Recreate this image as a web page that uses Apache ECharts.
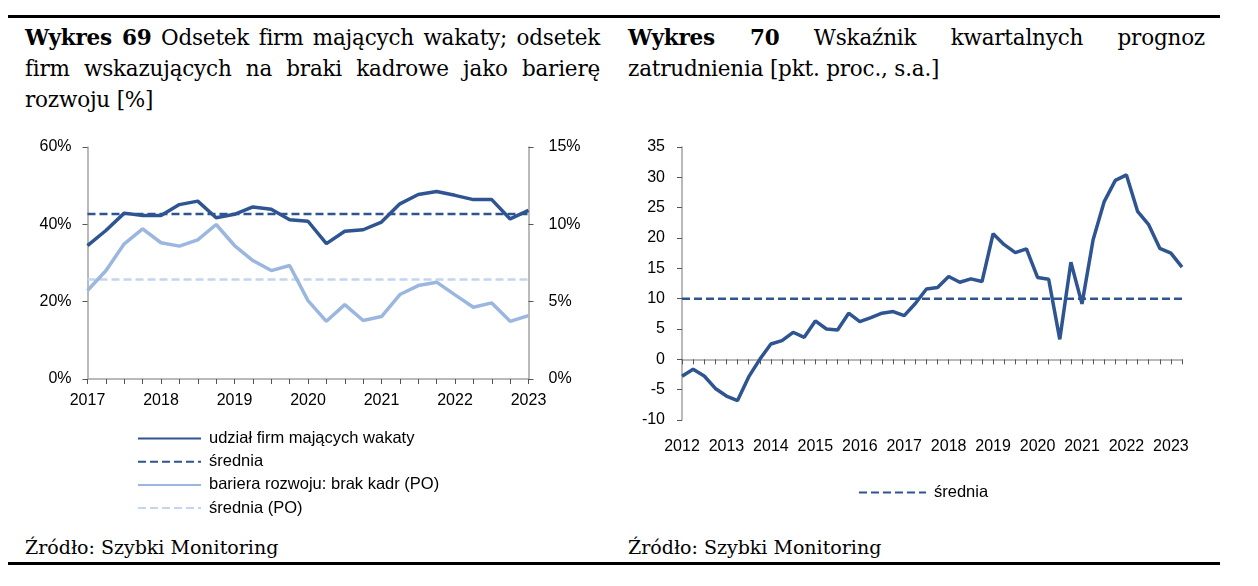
<!DOCTYPE html>
<html><head><meta charset="utf-8">
<script src="https://cdn.jsdelivr.net/npm/echarts@6/dist/echarts.min.js"></script>
<style>
html,body{margin:0;padding:0;background:#fff;width:1258px;height:586px;overflow:hidden;}
body{position:relative;font-family:"DejaVu Serif",serif;color:#000;}
.rule{position:absolute;left:8px;width:1212px;height:3px;background:#000;}
.chart{position:absolute;left:0;top:0;width:1258px;height:586px;}
.title{position:absolute;top:22px;font-size:21.5px;line-height:31px;}
.title .l{white-space:nowrap;text-align:justify;text-align-last:justify;letter-spacing:-0.2px;}
.title .last{text-align:left;text-align-last:left;}
.src{position:absolute;top:535px;font-size:19px;line-height:24px;white-space:nowrap;}
</style></head>
<body>
<div class="rule" style="top:15px"></div>
<div class="rule" style="top:562px"></div>
<div class="title" style="left:25px;width:575px">
  <div class="l"><b>Wykres 69</b> Odsetek firm mających wakaty; odsetek</div>
  <div class="l">firm wskazujących na braki kadrowe jako barierę</div>
  <div class="l last">rozwoju [%]</div>
</div>
<div class="title" style="left:628px;width:577px">
  <div class="l"><b>Wykres 70</b> Wskaźnik kwartalnych prognoz</div>
  <div class="l last">zatrudnienia [pkt. proc., s.a.]</div>
</div>
<div class="src" style="left:25px">Źródło: Szybki Monitoring</div>
<div class="src" style="left:628px">Źródło: Szybki Monitoring</div>
<div id="c1" class="chart"></div>
<div id="c2" class="chart"></div>
<script>
// ---------- Data: Wykres 69 (quarterly 2017Q1 - 2023Q1) ----------
const years69 = ['2017','2018','2019','2020','2021','2022','2023'];
const wakaty = [34.5, 38.4, 42.9, 42.3, 42.3, 45.1, 46.0, 41.7, 42.6, 44.5, 43.9, 41.2, 40.8,
                35.0, 38.2, 38.6, 40.6, 45.3, 47.7, 48.5, 47.5, 46.4, 46.4, 41.4, 43.6];
const brakKadr = [5.72, 7.0, 8.74, 9.71, 8.81, 8.59, 9.0, 9.99, 8.63, 7.66, 7.01, 7.34, 5.07,
                  3.73, 4.81, 3.78, 4.04, 5.46, 6.04, 6.26, 5.44, 4.64, 4.92, 3.73, 4.10];
const sredniaWakaty = 42.7;
const sredniaPO = 6.43;

// ---------- Data: Wykres 70 (quarterly 2012Q1 - 2023Q2) ----------
const years70 = ['2012','2013','2014','2015','2016','2017','2018','2019','2020','2021','2022','2023'];
const prognozy = [-2.8, -1.65, -2.75, -4.8, -6.05, -6.8, -2.9, 0.0, 2.53, 3.08, 4.46, 3.63,
                  6.33, 5.0, 4.84, 7.6, 6.22, 6.88, 7.6, 7.87, 7.2, 9.2, 11.6, 11.83,
                  13.65, 12.7, 13.26, 12.82, 20.7, 18.9, 17.6, 18.2, 13.5, 13.2, 3.3, 16.0,
                  9.14, 19.7, 26.0, 29.5, 30.4, 24.4, 22.2, 18.3, 17.5, 15.2];
const srednia70 = 10;

function quarters(years, count) {
  const out = [];
  for (const y of years) for (let q = 1; q <= 4; q++) out.push(y + ' Q' + q);
  return out.slice(0, count);
}
const cats69 = quarters(years69, wakaty.length);
const cats70 = quarters(years70, prognozy.length);

const DARK = '#2E5591';
const LIGHT = '#9BB7E0';
const LIGHTER = '#C3D5EF';
const AXIS = '#A3A3A3';
const FONT = '"Liberation Sans", Arial, sans-serif';

const yearLabel = v => v.slice(0, 4);

// ---------- Chart 69 ----------
const c1 = echarts.init(document.getElementById('c1'), null, {renderer: 'canvas'});
c1.setOption({
  animation: false,
  textStyle: {fontFamily: FONT},
  grid: {left: 87.5, right: 729.5, top: 147, bottom: 207, containLabel: false},
  legend: {
    orient: 'vertical', left: 137, top: 430, padding: 0,
    itemWidth: 63, itemHeight: 14, itemGap: 6.2,
    itemStyle: {opacity: 0},
    textStyle: {fontFamily: FONT, fontSize: 16.5, color: '#000', padding: [0, 0, 0, 3]},
    data: ['udział firm mających wakaty', 'średnia', 'bariera rozwoju: brak kadr (PO)', 'średnia (PO)']
  },
  xAxis: {
    type: 'category', data: cats69, boundaryGap: false,
    axisLine: {lineStyle: {color: AXIS, width: 1.5}},
    axisTick: {interval: 0, length: 5, lineStyle: {color: '#555', width: 1}},
    axisLabel: {interval: 3, formatter: yearLabel, color: '#000', fontSize: 16, margin: 14, fontFamily: FONT},
    splitLine: {show: false}
  },
  yAxis: [
    {type: 'value', min: 0, max: 60, interval: 20, position: 'left',
     axisLine: {show: true, lineStyle: {color: AXIS, width: 1.5}},
     axisTick: {show: true, length: 5, lineStyle: {color: '#555'}},
     axisLabel: {formatter: '{value}%', color: '#000', fontSize: 16, margin: 16, fontFamily: FONT},
     splitLine: {show: false}},
    {type: 'value', min: 0, max: 15, interval: 5, position: 'right',
     axisLine: {show: true, lineStyle: {color: AXIS, width: 1.5}},
     axisTick: {show: true, length: 5, lineStyle: {color: '#555'}},
     axisLabel: {formatter: '{value}%', color: '#000', fontSize: 16, margin: 20, fontFamily: FONT},
     splitLine: {show: false}}
  ],
  series: [
    {name: 'średnia (PO)', type: 'line', yAxisIndex: 1, symbol: 'none',
     data: [[0, sredniaPO], [cats69.length - 1, sredniaPO]],
     lineStyle: {color: LIGHTER, width: 2.5, type: [8, 4]}, itemStyle: {color: LIGHTER}, z: 1},
    {name: 'bariera rozwoju: brak kadr (PO)', type: 'line', yAxisIndex: 1, symbol: 'none',
     data: brakKadr, lineStyle: {color: LIGHT, width: 3.5}, itemStyle: {color: LIGHT}, z: 2},
    {name: 'średnia', type: 'line', yAxisIndex: 0, symbol: 'none',
     data: [[0, sredniaWakaty], [cats69.length - 1, sredniaWakaty]],
     lineStyle: {color: DARK, width: 2.5, type: [8, 4]}, itemStyle: {color: DARK}, z: 3},
    {name: 'udział firm mających wakaty', type: 'line', yAxisIndex: 0, symbol: 'none',
     data: wakaty, lineStyle: {color: DARK, width: 3.5}, itemStyle: {color: DARK}, z: 4}
  ]
});

// ---------- Chart 70 ----------
const c2 = echarts.init(document.getElementById('c2'), null, {renderer: 'canvas'});
c2.setOption({
  animation: false,
  textStyle: {fontFamily: FONT},
  grid: {left: 682, right: 76, top: 147, bottom: 166, containLabel: false},
  legend: {
    left: 858, top: 484, padding: 0,
    itemWidth: 67, itemHeight: 14,
    itemStyle: {opacity: 0},
    textStyle: {fontFamily: FONT, fontSize: 16.5, color: '#000', padding: [0, 0, 0, 3]},
    data: ['średnia']
  },
  xAxis: {
    type: 'category', data: cats70, boundaryGap: false,
    axisLine: {onZero: true, lineStyle: {color: AXIS, width: 1.5}},
    axisTick: {interval: 0, length: 5, lineStyle: {color: '#555', width: 1}},
    axisLabel: {interval: 3, formatter: yearLabel, color: '#000', fontSize: 16, margin: 19, fontFamily: FONT},
    splitLine: {show: false}
  },
  yAxis: {
    type: 'value', min: -10, max: 35, interval: 5,
    axisLine: {show: true, lineStyle: {color: AXIS, width: 1.5}},
    axisTick: {show: true, length: 5, lineStyle: {color: '#555'}},
    axisLabel: {color: '#000', fontSize: 16, margin: 17, fontFamily: FONT},
    splitLine: {show: false}
  },
  series: [
    {name: 'średnia', type: 'line', symbol: 'none',
     data: [[0, srednia70], [cats70.length - 1, srednia70]],
     lineStyle: {color: DARK, width: 2.5, type: [8, 4]}, itemStyle: {color: DARK}, z: 1},
    {name: 'prognozy', type: 'line', symbol: 'none',
     data: prognozy, lineStyle: {color: DARK, width: 3.5}, itemStyle: {color: DARK}, z: 2}
  ]
});
</script>
</body></html>
